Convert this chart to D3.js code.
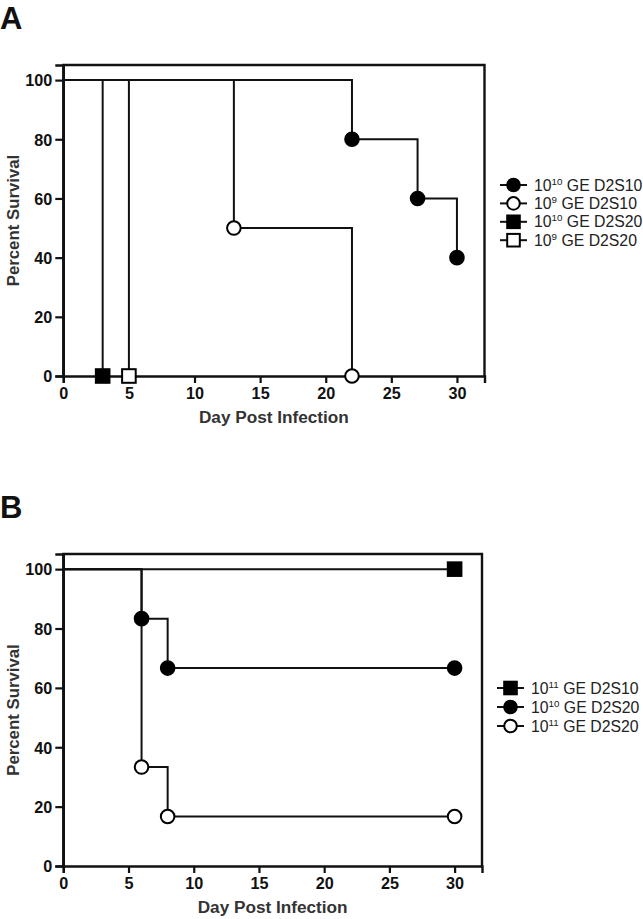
<!DOCTYPE html>
<html><head><meta charset="utf-8">
<script src="https://cdn.jsdelivr.net/npm/d3@7"></script>
<style>body{margin:0;background:#fff}svg{display:block}</style>
</head><body>
<script>
// ---- Data ----
const xTicks = [0,5,10,15,20,25,30];
const yTicks = [0,20,40,60,80,100];

// Panel A series
const aNames = [["10","10"," GE D2S10"],["10","9"," GE D2S10"],["10","10"," GE D2S20"],["10","9"," GE D2S20"]];
const aSymbols = ["circle","circle","square","square"];
const aFilled = [true,false,true,false];
const aDays = [[0,22,27,30],[0,13,22],[0,3],[0,5]];
const aSurv = [[100,80,60,40],[100,50,0],[100,0],[100,0]];

// Panel B series
const bNames = [["10","11"," GE D2S10"],["10","10"," GE D2S20"],["10","11"," GE D2S20"]];
const bSymbols = ["square","circle","circle"];
const bFilled = [true,true,false];
const bDays = [[0,30],[0,6,8,30],[0,6,8,30]];
const bSurv = [[100,100],[100,83.33,66.67,66.67],[100,33.33,16.67,16.67]];

const W = 643, H = 919;
const svg = d3.select("body").append("svg").attr("width",W).attr("height",H)
  .style("font-family","'Liberation Sans', Arial, sans-serif");

function panel(cfg){
  const {letter, letterY, top, bottom, right, names, symbols, filled, days, surv, legX, legY, legStep} = cfg;
  const left = 63.3;
  const x = d3.scaleLinear().domain([0,32.1]).range([left,right]);
  const y = d3.scaleLinear().domain([0,105.1]).range([bottom,top]);
  const g = svg.append("g");

  g.append("text").attr("x",0).attr("y",letterY).text(letter)
    .attr("font-size",31).attr("font-weight","bold").attr("fill","#111");

  // frame
  g.append("path").attr("d",`M${left},${bottom}V${top}H${right}V${bottom}`)
    .attr("fill","none").attr("stroke","#111").attr("stroke-width",2.4);

  const xa = g.append("g").attr("transform",`translate(0,${bottom})`)
    .call(d3.axisBottom(x).tickValues(xTicks).tickSize(7).tickPadding(4).tickFormat(d3.format("d")));
  const ya = g.append("g").attr("transform",`translate(${left},0)`)
    .call(d3.axisLeft(y).tickValues(yTicks).tickSize(8).tickPadding(3).tickFormat(d3.format("d")));
  [xa,ya].forEach(a=>{
    a.select(".domain").attr("stroke","#111").attr("stroke-width",2.4);
    a.selectAll(".tick line").attr("stroke","#111").attr("stroke-width",2.2);
    a.selectAll(".tick text").attr("font-size",16.2).attr("font-weight","bold")
      .attr("fill","#111").attr("font-family","'Liberation Sans', Arial, sans-serif");
  });
  ya.selectAll(".tick text").attr("dy","0.36em");

  g.append("text").attr("x",(left+right)/2).attr("y",bottom+47).attr("text-anchor","middle")
    .text("Day Post Infection").attr("font-size",17.2).attr("font-weight","bold").attr("fill","#333");
  g.append("text").attr("transform",`translate(18.5,${(top+bottom)/2}) rotate(-90)`).attr("text-anchor","middle")
    .text("Percent Survival").attr("font-size",16.8).attr("font-weight","bold").attr("fill","#333");

  const line = d3.line().x(d=>x(d[0])).y(d=>y(d[1])).curve(d3.curveStepAfter);
  const pts = days.map((ds,i)=>ds.map((d,j)=>[d,surv[i][j]]));
  pts.forEach(p=>{
    g.append("path").attr("d",line(p)).attr("fill","none").attr("stroke","#111").attr("stroke-width",2);
  });
  function marker(sel, sym, fill, cx, cy, r){
    if(sym==="circle"){
      sel.append("circle").attr("cx",cx).attr("cy",cy).attr("r",r)
        .attr("fill",fill?"#000":"#fff").attr("stroke","#000").attr("stroke-width",2);
    } else {
      sel.append("rect").attr("x",cx-r).attr("y",cy-r).attr("width",2*r).attr("height",2*r)
        .attr("fill",fill?"#000":"#fff").attr("stroke","#000").attr("stroke-width",2);
    }
  }
  pts.forEach((p,i)=>{
    p.slice(1).forEach(d=>marker(g,symbols[i],filled[i],x(d[0]),y(d[1]),6.8));
  });

  // legend
  names.forEach((n,i)=>{
    const yy = legY + i*legStep;
    g.append("line").attr("x1",legX).attr("x2",legX+27).attr("y1",yy).attr("y2",yy)
      .attr("stroke","#111").attr("stroke-width",2);
    marker(g,symbols[i],filled[i],legX+13.5,yy,6.3);
    const t = g.append("text").attr("x",legX+34).attr("y",yy+5.5).attr("font-size",15.8).attr("fill","#222");
    t.append("tspan").text(n[0]);
    t.append("tspan").text(n[1]).attr("font-size",9.8).attr("dy",-6);
    t.append("tspan").text(n[2]).attr("dy",6);
  });
}

panel({letter:"A", letterY:29, top:65, bottom:376, right:484.5,
  names:aNames, symbols:aSymbols, filled:aFilled, days:aDays, surv:aSurv, legX:500, legY:185, legStep:18.4});
panel({letter:"B", letterY:518, top:554, bottom:866, right:482,
  names:bNames, symbols:bSymbols, filled:bFilled, days:bDays, surv:bSurv, legX:497, legY:688, legStep:19});
</script>
</body></html>
